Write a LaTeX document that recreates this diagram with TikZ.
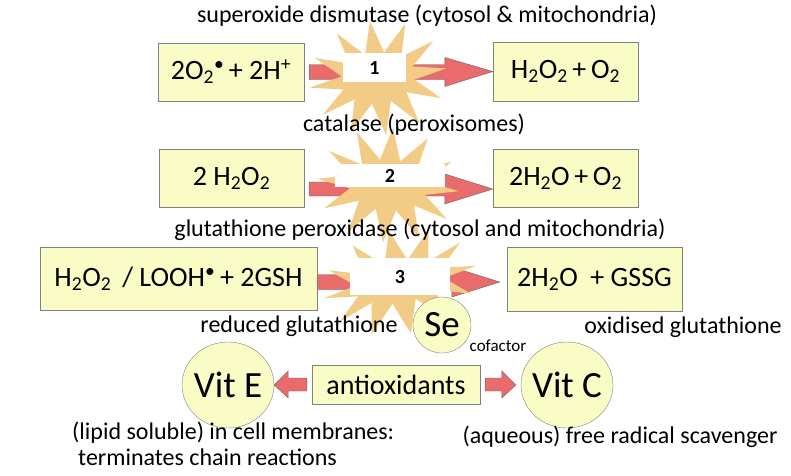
\documentclass[tikz,border=0pt]{standalone}
\usepackage{fontspec}
\setmainfont{Carlito}
\usetikzlibrary{shapes.geometric, shapes.symbols, calc, positioning}
\definecolor{boxfill}{HTML}{FAFCC6}
\definecolor{boxline}{HTML}{808080}
\definecolor{burstfill}{HTML}{F2CB87}
\definecolor{arrowfill}{HTML}{E96B6B}
\tikzstyle{reactbox} = [rectangle, minimum height=59pt, text centered, draw=boxline, fill=boxfill, font=\fontsize{28}{30}\selectfont]
\tikzstyle{vitamin} = [ellipse, minimum width=92pt, minimum height=86pt, inner sep=-6pt, draw=boxline, fill=boxfill, font=\fontsize{37}{40}\selectfont]
\tikzstyle{burst} = [starburst, fill=burstfill, starburst points=12, starburst point height=32pt, random starburst=0, minimum width=138pt, minimum height=115pt, inner sep=0pt]
\tikzstyle{stepnum} = [rectangle, fill=white, inner sep=0pt, font=\bfseries\fontsize{20}{22}\selectfont]
\tikzstyle{enzyme} = [font=\fontsize{24}{26}\selectfont]
\tikzstyle{fatarrow} = [draw=boxline!80!black, fill=arrowfill]
% block arrow: from, to, shaft half width, head half width, head length
\newcommand{\fatarrow}[5]{%
  \draw[fatarrow] let \p1=(#1), \p2=(#2), \p3=($(#2)!#5!(#1)$) in
    (\x1,\y1+#3) -- (\x3,\y1+#3) -- (\x3,\y1+#4) -- (\x2,\y2) -- (\x3,\y1-#4) -- (\x3,\y1-#3) -- (\x1,\y1-#3) -- cycle;}

\begin{document}
\begin{tikzpicture}[x=1pt, y=-1pt]
\useasboundingbox[fill=white] (0,0) rectangle (791,475);

% reactions
\node (sod_in) [reactbox, minimum width=146pt, minimum height=58pt] at (231,72) {2O\textsubscript{2}\textsuperscript{\textbullet}\,+ 2H\textsuperscript{+}};
\node (sod_out) [reactbox, minimum width=145pt] at (565.5,71.5) {H\textsubscript{2}O\textsubscript{2}\,+\,O\textsubscript{2}};
\node (cat_in) [reactbox, minimum width=145pt, minimum height=58pt] at (231.5,178) {2 H\textsubscript{2}O\textsubscript{2}};
\node (cat_out) [reactbox, minimum width=145pt, minimum height=58pt] at (565.5,178) {2H\textsubscript{2}O\,+\,O\textsubscript{2}};
\node (gpx_in) [reactbox, minimum width=277pt, minimum height=63pt] at (178.5,279) {H\textsubscript{2}O\textsubscript{2}\ \,/ LOOH\textsuperscript{\textbullet}\,+ 2GSH};
\node (gpx_out) [reactbox, minimum width=175pt, minimum height=64pt] at (594.5,279) {2H\textsubscript{2}O\ \ + GSSG};

\fatarrow{[xshift=5pt]sod_in.east}{sod_out.west}{7.5pt}{14.5pt}{48pt}
\fatarrow{[xshift=5pt, yshift=-11pt]cat_in.east}{[yshift=-11pt]cat_out.west}{7pt}{15pt}{48pt}
\fatarrow{[yshift=-3pt]gpx_in.east}{[xshift=-7pt, yshift=-3pt]gpx_out.west}{7.5pt}{15pt}{48pt}

% enzymes
\node (burst1) [burst, rotate=8] at (378,78) {};
\node (num1) [stepnum, minimum width=63pt, minimum height=29pt] at (374.5,67.5) {1};
\node (burst2) [burst, rotate=-5, minimum width=142pt] at (388,185) {};
\node (num2) [stepnum, minimum width=110pt, minimum height=23pt] at (390,175.5) {2};
\node (burst3) [burst, rotate=12, minimum width=155pt, minimum height=105pt] at (400,282) {};
\node (num3) [stepnum, minimum width=100pt, minimum height=37pt] at (400,276.5) {3};
\node (se) [vitamin, minimum width=58pt, minimum height=56pt, inner sep=0pt] at (442,325) {Se};

\node (sod_name) [enzyme] at (427,16) {superoxide dismutase (cytosol \& mitochondria)};
\node (cat_name) [enzyme] at (414,125) {catalase (peroxisomes)};
\node (gpx_name) [enzyme] at (420,230) {glutathione peroxidase (cytosol and mitochondria)};
\node (gsh_name) [enzyme] at (299,326) {reduced glutathione};
\node (gssg_name) [enzyme] at (683,327) {oxidised glutathione};
\node (cofactor) [font=\fontsize{17}{18}\selectfont] at (498,346) {cofactor};

% antioxidant vitamins
\node (vite) [vitamin] at (228,385) {Vit E};
\node (antiox) [reactbox, minimum width=168pt, minimum height=39pt] at (396,384.5) {antioxidants};
\node (vitc) [vitamin] at (567,385) {Vit C};
\fatarrow{[xshift=-5pt]antiox.west}{vite.east}{6.5pt}{13.5pt}{14pt}
\fatarrow{[xshift=5pt]antiox.east}{[xshift=-5pt]vitc.west}{6.5pt}{13.5pt}{14pt}

\node (vite_note) [enzyme, align=left, anchor=north west, inner sep=0pt] at (72,422) {(lipid soluble) in cell membranes:\\\hspace{6pt}terminates chain reactions};
\node (vitc_note) [enzyme] at (620,437) {(aqueous) free radical scavenger};

\end{tikzpicture}
\end{document}
